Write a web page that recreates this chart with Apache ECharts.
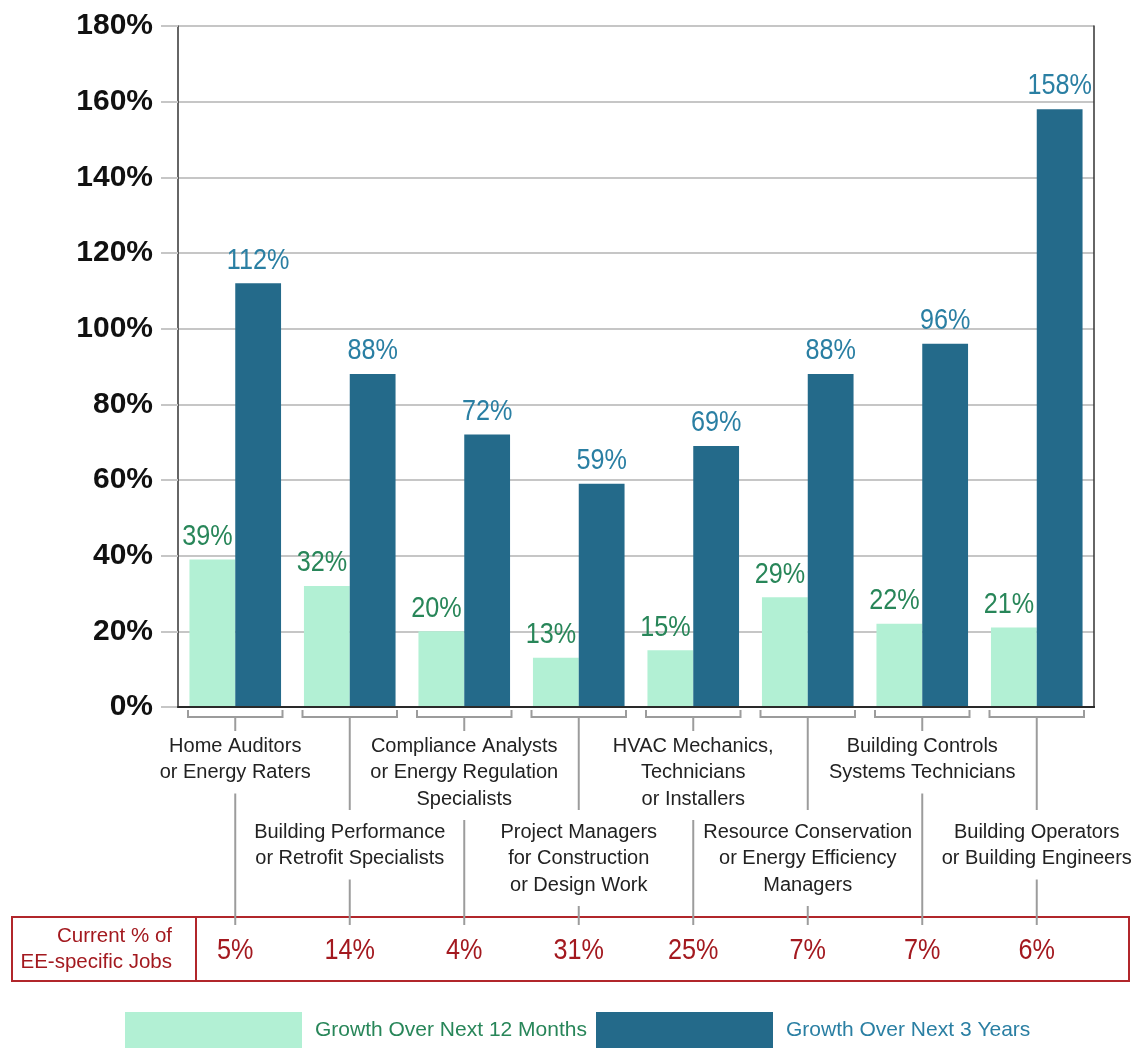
<!DOCTYPE html>
<html>
<head>
<meta charset="utf-8">
<title>Energy efficiency job growth by occupation</title>
<script src="https://cdn.jsdelivr.net/npm/echarts@6/dist/echarts.min.js"></script>
<style>
  html, body { margin: 0; padding: 0; background: #ffffff; }
  #chart { width: 1131px; height: 1048px; }
</style>
</head>
<body>
<div id="chart"></div>
<script>
// Occupation groups (each entry is the label split into its printed lines)
const occupations = [
  ['Home Auditors', 'or Energy Raters'],
  ['Building Performance', 'or Retrofit Specialists'],
  ['Compliance Analysts', 'or Energy Regulation', 'Specialists'],
  ['Project Managers', 'for Construction', 'or Design Work'],
  ['HVAC Mechanics,', 'Technicians', 'or Installers'],
  ['Resource Conservation', 'or Energy Efficiency', 'Managers'],
  ['Building Controls', 'Systems Technicians'],
  ['Building Operators', 'or Building Engineers']
];

// Expected growth, percent
const growth12Months = [39, 32, 20, 13, 15, 29, 22, 21];
const growth3Years = [112, 88, 72, 59, 69, 88, 96, 158];

// Current share of EE-specific jobs, percent
const currentShare = [5, 14, 4, 31, 25, 7, 7, 6];

// Value axis ticks
const yTicks = { min: 0, max: 180, interval: 20 };

const seriesNames = ['Growth Over Next 12 Months', 'Growth Over Next 3 Years'];
const tableHeader = ['Current % of', 'EE-specific Jobs'];

const SANS = '"Liberation Sans", Arial, Helvetica, sans-serif';
const COLORS = {
  light: '#b2f0d4',
  dark: '#246a8a',
  lightText: '#288659',
  darkText: '#2a7fa3',
  tableRed: '#b1262b',
  tableText: '#a3191f',
  leader: '#9c9c9c',
  label: '#222222'
};

// Numbers are set in a horizontally condensed face
const NUM_FONT = '30px ' + SANS;
const NUM_SCALE = 0.84;

// Share of the category band taken by each bar (barCategoryGap 20%, barGap 0)
const BAR_SHARE = 0.4;

// Table band below the chart
const TABLE = { left: 12, top: 917, width: 1117, height: 64, divider: 196 };

const chart = echarts.init(document.getElementById('chart'), null, { renderer: 'canvas' });

function textEl(text, x, y, font, fill, align, vAlign, scaleX) {
  return {
    type: 'text',
    x: x, y: y,
    scaleX: scaleX || 1,
    style: {
      text: text, x: 0, y: 0, font: font, fill: fill,
      align: align || 'center', verticalAlign: vAlign || 'middle',
      textAlign: align || 'center', textVerticalAlign: vAlign || 'middle'
    }
  };
}

// Brackets under each bar pair, staggered category labels, leader lines
// and the current-share value in the table row.
function renderAnnotations(params, api) {
  const i = api.value(0);
  const share = api.value(1);
  const p = api.coord([i, 0]);
  const cx = p[0];
  const y0 = p[1];
  const band = api.size([1, 0])[0];
  const half = band / 2 - 10;
  const lines = occupations[i];
  const lineH = 26.5;
  const upper = i % 2 === 0;
  const firstY = upper ? y0 + 39 : y0 + 125;
  const lastY = firstY + (lines.length - 1) * lineH;
  const stem1End = upper ? y0 + 24 : y0 + 103;
  const stroke = { stroke: COLORS.leader, lineWidth: 2, fill: null };

  const children = [
    { type: 'polyline', shape: { points: [[cx - half, y0 + 3], [cx - half, y0 + 10], [cx + half, y0 + 10], [cx + half, y0 + 3]] }, style: stroke },
    { type: 'line', shape: { x1: cx, y1: y0 + 10, x2: cx, y2: stem1End }, style: stroke },
    { type: 'line', shape: { x1: cx, y1: lastY + 21, x2: cx, y2: TABLE.top + 8 }, style: stroke }
  ];
  lines.forEach(function (t, k) {
    children.push(textEl(t, cx, firstY + k * lineH, '20px ' + SANS, COLORS.label, 'center', 'middle'));
  });
  children.push(textEl(share + '%', cx, TABLE.top + 34, NUM_FONT, COLORS.tableText, 'center', 'middle', NUM_SCALE));
  return { type: 'group', children: children };
}

// Value labels above the bars; side = -1 for the left bar, +1 for the right bar
function valueLabelRenderer(side, color, dx) {
  return function (params, api) {
    const i = api.value(0);
    const v = api.value(1);
    const top = api.coord([i, v]);
    const band = api.size([1, 0])[0];
    const x = top[0] + side * band * BAR_SHARE / 2 + dx;
    return textEl(v + '%', x, top[1] - 8, NUM_FONT, color, 'center', 'bottom', NUM_SCALE);
  };
}

const categoryNames = occupations.map(function (l) { return l.join(' '); });

const option = {
  animation: false,
  backgroundColor: '#ffffff',
  grid: { left: 178, top: 26, width: 916, height: 681 },
  xAxis: [
    {
      type: 'category',
      data: categoryNames,
      z: 5,
      axisLine: { show: true, lineStyle: { color: '#111', width: 2 } },
      axisTick: { show: false },
      axisLabel: { show: false }
    },
    {
      type: 'category',
      position: 'top',
      data: categoryNames,
      z: 5,
      axisLine: { show: true, lineStyle: { color: '#333', width: 1.5 } },
      axisTick: { show: false },
      axisLabel: { show: false }
    }
  ],
  yAxis: [
    {
      type: 'value',
      min: yTicks.min, max: yTicks.max, interval: yTicks.interval,
      axisLine: { show: true, lineStyle: { color: '#333', width: 1.5 } },
      axisTick: { show: true, length: 17, lineStyle: { color: '#c6c6c6', width: 2 } },
      splitLine: { show: true, lineStyle: { color: '#c6c6c6', width: 2 } },
      axisLabel: {
        margin: 25,
        formatter: '{value}%',
        fontFamily: SANS,
        fontWeight: 'bold',
        fontSize: 30,
        color: '#111'
      }
    },
    {
      type: 'value',
      position: 'right',
      min: yTicks.min, max: yTicks.max, interval: yTicks.interval,
      z: 5,
      axisLine: { show: true, lineStyle: { color: '#333', width: 1.5 } },
      axisTick: { show: false },
      splitLine: { show: false },
      axisLabel: { show: false }
    }
  ],
  legend: [
    {
      left: 120, top: 1007,
      itemWidth: 177, itemHeight: 36,
      icon: 'rect',
      selectedMode: false,
      data: [{ name: seriesNames[0], textStyle: { color: COLORS.lightText } }],
      textStyle: { fontFamily: SANS, fontSize: 21, padding: [0, 0, 0, 8] }
    },
    {
      left: 591, top: 1007,
      itemWidth: 177, itemHeight: 36,
      icon: 'rect',
      selectedMode: false,
      data: [{ name: seriesNames[1], textStyle: { color: COLORS.darkText } }],
      textStyle: { fontFamily: SANS, fontSize: 21, padding: [0, 0, 0, 8] }
    }
  ],
  graphic: [
    {
      type: 'rect',
      shape: { x: TABLE.left, y: TABLE.top, width: TABLE.width, height: TABLE.height },
      style: { fill: null, stroke: COLORS.tableRed, lineWidth: 2 },
      z: 1
    },
    {
      type: 'line',
      shape: { x1: TABLE.divider, y1: TABLE.top, x2: TABLE.divider, y2: TABLE.top + TABLE.height },
      style: { stroke: COLORS.tableRed, lineWidth: 2 },
      z: 1
    },
    {
      type: 'text',
      style: {
        text: tableHeader.join('\n'),
        x: TABLE.divider - 24, y: TABLE.top + TABLE.height / 2,
        font: '20.5px ' + SANS, fill: COLORS.tableText,
        lineHeight: 26,
        align: 'right', verticalAlign: 'middle',
        textAlign: 'right', textVerticalAlign: 'middle'
      },
      z: 1
    }
  ],
  series: [
    {
      name: seriesNames[0],
      type: 'bar',
      data: growth12Months,
      barGap: '0%',
      barCategoryGap: '20%',
      itemStyle: { color: COLORS.light }
    },
    {
      name: seriesNames[1],
      type: 'bar',
      data: growth3Years,
      barGap: '0%',
      barCategoryGap: '20%',
      itemStyle: { color: COLORS.dark }
    },
    {
      name: 'labels12',
      type: 'custom',
      silent: true,
      clip: false,
      z: 6,
      renderItem: valueLabelRenderer(-1, COLORS.lightText, -5),
      encode: { x: 0, y: 1 },
      data: growth12Months.map(function (v, i) { return [i, v]; })
    },
    {
      name: 'labels3',
      type: 'custom',
      silent: true,
      clip: false,
      z: 6,
      renderItem: valueLabelRenderer(1, COLORS.darkText, 0),
      encode: { x: 0, y: 1 },
      data: growth3Years.map(function (v, i) { return [i, v]; })
    },
    {
      name: 'annotations',
      type: 'custom',
      silent: true,
      clip: false,
      z: 5,
      renderItem: renderAnnotations,
      encode: { x: 0, y: 1 },
      data: currentShare.map(function (v, i) { return [i, v]; })
    }
  ]
};

chart.setOption(option);
</script>
</body>
</html>
